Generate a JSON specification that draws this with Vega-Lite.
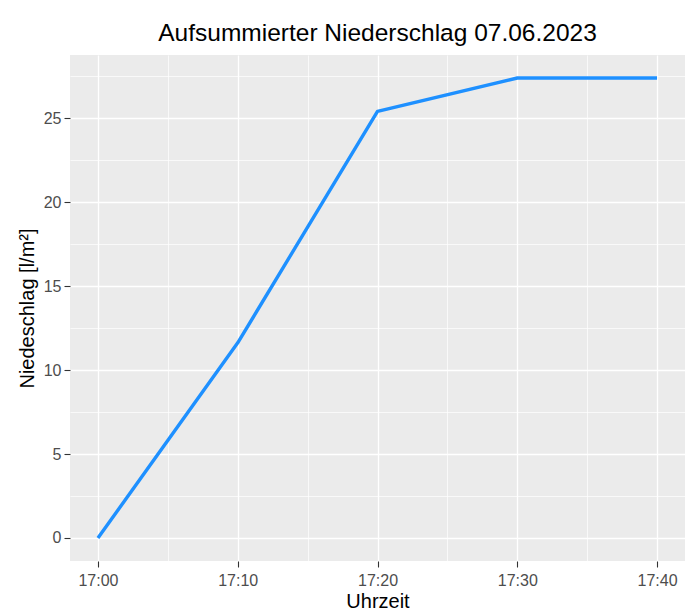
{
  "$schema": "https://vega.github.io/schema/vega-lite/v6.json",
  "autosize": {"type": "none"},
  "width": 615,
  "height": 506,
  "padding": {"left": 70, "top": 55, "right": 2, "bottom": 53},
  "background": "white",
  "title": {
    "text": "Aufsummierter Niederschlag 07.06.2023",
    "font": "Liberation Sans",
    "fontSize": 24.5,
    "fontWeight": "normal",
    "color": "#000000",
    "anchor": "middle",
    "offset": 9
  },
  "config": {
    "view": {"fill": "#EBEBEB", "stroke": null},
    "axis": {
      "labelFont": "Liberation Sans",
      "labelFontSize": 16,
      "labelColor": "#4D4D4D",
      "titleFont": "Liberation Sans",
      "titleFontSize": 20,
      "titleFontWeight": "normal",
      "titleColor": "#000000",
      "tickColor": "#333333",
      "tickSize": 6,
      "tickWidth": 1.1,
      "domain": false,
      "gridColor": "#FFFFFF"
    }
  },
  "data": {
    "values": [
      {"zeit": "2023-06-07T17:00:00", "niederschlag": 0},
      {"zeit": "2023-06-07T17:10:00", "niederschlag": 11.62},
      {"zeit": "2023-06-07T17:20:00", "niederschlag": 25.4},
      {"zeit": "2023-06-07T17:30:00", "niederschlag": 27.39},
      {"zeit": "2023-06-07T17:40:00", "niederschlag": 27.39}
    ]
  },
  "mark": {"type": "line", "color": "#1E90FF", "strokeWidth": 3.4, "strokeCap": "butt", "strokeJoin": "round"},
  "encoding": {
    "x": {
      "field": "zeit",
      "type": "temporal",
      "title": "Uhrzeit",
      "scale": {
        "domain": [
          {"year": 2023, "month": 6, "date": 7, "hours": 16, "minutes": 58},
          {"year": 2023, "month": 6, "date": 7, "hours": 17, "minutes": 42}
        ]
      },
      "axis": {
        "values": [
          {"year": 2023, "month": 6, "date": 7, "hours": 17, "minutes": 0},
          {"year": 2023, "month": 6, "date": 7, "hours": 17, "minutes": 5},
          {"year": 2023, "month": 6, "date": 7, "hours": 17, "minutes": 10},
          {"year": 2023, "month": 6, "date": 7, "hours": 17, "minutes": 15},
          {"year": 2023, "month": 6, "date": 7, "hours": 17, "minutes": 20},
          {"year": 2023, "month": 6, "date": 7, "hours": 17, "minutes": 25},
          {"year": 2023, "month": 6, "date": 7, "hours": 17, "minutes": 30},
          {"year": 2023, "month": 6, "date": 7, "hours": 17, "minutes": 35},
          {"year": 2023, "month": 6, "date": 7, "hours": 17, "minutes": 40}
        ],
        "format": "%H:%M",
        "labelExpr": "minutes(datum.value) % 10 == 0 ? datum.label : ''",
        "tickOpacity": {"condition": {"test": "minutes(datum.value) % 10 == 0", "value": 1}, "value": 0},
        "gridWidth": {"condition": {"test": "minutes(datum.value) % 10 == 0", "value": 1.3}, "value": 0.7},
        "labelPadding": 5,
        "titlePadding": 3,
        "labelFlush": false,
        "labelOverlap": false
      }
    },
    "y": {
      "field": "niederschlag",
      "type": "quantitative",
      "title": "Niedeschlag [l/m²]",
      "scale": {"domain": [-1.37, 28.76], "nice": false, "zero": false},
      "axis": {
        "values": [0, 2.5, 5, 7.5, 10, 12.5, 15, 17.5, 20, 22.5, 25, 27.5],
        "labelExpr": "datum.value % 5 == 0 ? datum.label : ''",
        "tickOpacity": {"condition": {"test": "datum.value % 5 == 0", "value": 1}, "value": 0},
        "gridWidth": {"condition": {"test": "datum.value % 5 == 0", "value": 1.3}, "value": 0.7},
        "labelPadding": 3,
        "titlePadding": 6,
        "labelOverlap": false
      }
    }
  }
}
